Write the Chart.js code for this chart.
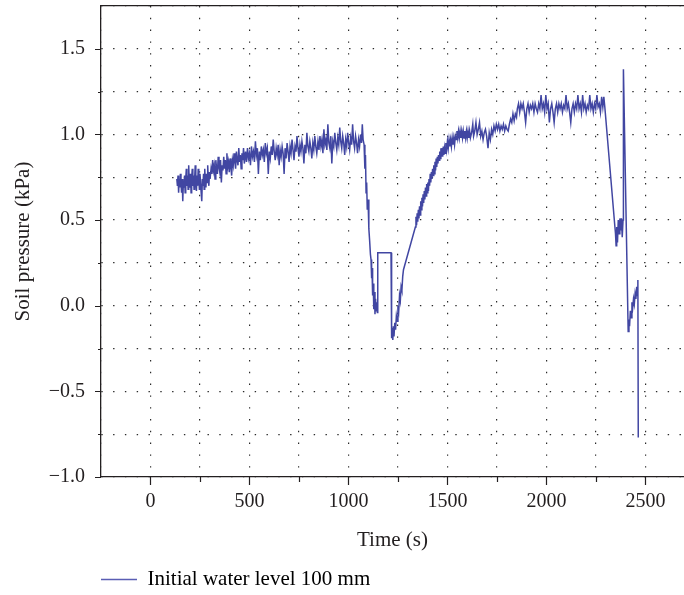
<!DOCTYPE html>
<html lang="en">
<head>
  <meta charset="UTF-8" />
  <title>Soil pressure</title>
  <script src="https://cdn.jsdelivr.net/npm/chart.js"></script>
  <style>
    body {
      margin: 0;
      background: #fff;
    }
    canvas {
      display: block;
    }
  </style>
</head>
<body>
  <canvas id="pressureChart" width="684" height="595"></canvas>

  <script>
    // Readings (time s, pressure kPa)
    const earlyPhase = [
      [133,0.74],[136,0.70],[139,0.76],[142,0.66],[145,0.74],[148,0.69],[151,0.77],[154,0.72],[157,0.66],[160,0.74],
      [163,0.61],[166,0.72],[169,0.69],[172,0.76],[175,0.66],[178,0.74],[181,0.80],[184,0.70],[187,0.76],[190,0.68],
      [193,0.82],[196,0.72],[199,0.69],[202,0.77],[205,0.66],[208,0.74],[211,0.80],[214,0.70],[217,0.76],[220,0.68],
      [223,0.74],[226,0.82],[229,0.72],[232,0.67],[235,0.76],[238,0.70],[241,0.80],[244,0.74],[247,0.68],[250,0.77],
      [253,0.72],[256,0.66],[259,0.61],[262,0.74],[265,0.70],[268,0.77],[271,0.68],[274,0.80],[277,0.73],[280,0.69],
      [283,0.77],[286,0.72],[289,0.82],[292,0.74],[295,0.70],[298,0.78],[301,0.74],
      [306,0.80],[310,0.77],[314,0.85],[318,0.79],[322,0.82],[326,0.74],[330,0.85],[334,0.80],[338,0.77],[342,0.87],
      [346,0.81],[350,0.78],[354,0.85],[358,0.72],[362,0.82],[366,0.79],[370,0.87],[374,0.80],[378,0.85],[382,0.77],
      [386,0.89],[390,0.81],[394,0.84],[398,0.78],[402,0.86],[406,0.81],[410,0.76],[414,0.85],
      [418,0.82],[422,0.89],[426,0.84],[430,0.80],[434,0.90],[438,0.85],[442,0.82],[446,0.92],[450,0.84],[454,0.88],
      [458,0.80],[462,0.89],[466,0.85],[470,0.92],[474,0.83]
    ];

    const midPhase = [
      [480,0.90],[485,0.84],[490,0.92],[495,0.86],[500,0.89],[505,0.82],[510,0.93],[515,0.87],[520,0.90],[525,0.84],
      [530,0.96],[535,0.88],[540,0.92],[545,0.77],[550,0.90],[555,0.85],[560,0.93],[565,0.88],[570,0.91],[575,0.84],
      [580,0.95],[585,0.89],[590,0.92],[595,0.77],[600,0.90],[605,0.86],[610,0.93],[615,0.88],[620,0.97],[625,0.90],
      [630,0.85],[635,0.92],[640,0.88],[645,0.94],[650,0.82],[655,0.91],[660,0.87],[665,0.93],[670,0.89],[675,0.77],
      [680,0.92],[685,0.86],[690,0.95],[695,0.90],[700,0.84],[705,0.93],[710,0.89],[715,0.97],[720,0.91],[725,0.85],
      [730,0.93],[735,0.90],[740,0.99],[745,0.92],[750,0.87],[755,0.94],[760,0.90],[765,0.96],[770,0.92],[775,0.83],
      [780,0.94],[785,0.89],[790,1.01],[795,0.93],[800,0.90],[805,0.96],[810,0.92],[815,0.86],[820,0.95],[825,0.91],
      [830,0.99],[835,0.93],[840,0.89],
      [846,0.96],[851,0.91],[856,0.99],[861,0.93],[866,0.97],[871,0.89],[876,1.03],[881,0.94],[886,0.97],[891,0.91],
      [896,1.06],[901,0.95],[906,0.92],[911,0.99],[916,0.83],[921,0.96],[926,0.93],[931,1.01],[936,0.95],[941,0.91],
      [946,0.98],[951,0.94],[956,1.04],[961,0.96],[966,0.92],[971,0.99],[976,0.95],[981,0.88],[986,0.97],[991,0.93],
      [996,1.01],[1001,0.95],[1006,0.91],[1011,0.98],[1016,0.94],[1021,1.06],[1026,0.96],[1031,0.92],[1036,0.99],
      [1041,0.95],[1046,0.89],[1051,0.97],[1056,0.93],[1061,1.00],[1066,0.95],[1070,1.06],[1074,0.97]
    ];

    const firstDrop = [
      [1079,0.94],[1083,0.80],[1086,0.88],[1089,0.66],[1092,0.72],[1095,0.56],[1099,0.62],[1103,0.45],[1107,0.38],
      [1111,0.30],[1114,0.27],[1117,0.16],[1119,0.22],[1122,0.06],[1125,0.13],[1128,-0.02],[1131,0.08],[1134,-0.05],
      [1137,0.04],[1140,-0.03],[1143,0.02],[1146,-0.04],[1148,0.31],[1215,0.31],[1218,-0.19],[1221,-0.13],[1224,-0.20],
      [1227,-0.12],[1230,-0.18],[1234,-0.10],[1238,-0.14],[1242,-0.06],[1246,-0.09],[1250,0.00],[1254,-0.03],
      [1258,0.06],[1262,0.03],[1266,0.11],[1270,0.09],[1274,0.17],[1278,0.21],[1338,0.46]
    ];

    const recovery = [
      [1341,0.52],[1344,0.47],[1347,0.54],[1350,0.49],[1353,0.56],[1356,0.51],[1359,0.58],[1362,0.53],[1365,0.61],
      [1368,0.56],[1371,0.63],[1374,0.58],[1377,0.65],[1380,0.60],[1383,0.67],[1386,0.62],[1389,0.69],[1392,0.64],
      [1395,0.71],[1398,0.66],[1401,0.72],[1404,0.67],[1407,0.74],[1410,0.70],[1413,0.77],[1416,0.72],[1419,0.78],
      [1422,0.74],[1425,0.80],[1428,0.76],[1431,0.82],[1434,0.77],[1437,0.84],[1440,0.79],[1443,0.86],[1446,0.81],
      [1449,0.87],[1452,0.83],[1455,0.88],[1458,0.85],[1461,0.90],[1464,0.86],[1467,0.92],[1470,0.87],[1473,0.92],
      [1476,0.87],[1479,0.93],[1482,0.88],[1485,0.92],[1488,0.89],[1492,0.95],[1496,0.91],[1500,0.96],[1504,0.92],
      [1508,0.97],[1512,0.93],[1516,0.97],[1520,0.93],[1524,0.98],[1528,0.94],[1532,0.98],[1536,0.94],[1540,0.99],
      [1544,0.97],[1548,1.02],[1552,0.98],[1556,1.02],[1560,0.98],[1564,1.02],[1568,0.98],[1572,1.02],[1576,0.98],
      [1580,1.02],[1584,0.98],[1588,1.02],[1592,0.98],[1596,1.02],[1600,0.98],[1604,1.02],[1608,0.98],[1612,1.02],
      [1616,0.98],[1622,1.01],
      [1628,1.06],[1632,0.99],[1638,1.02],[1644,1.07],[1650,1.00],[1656,1.03],[1662,1.07],[1668,0.99],[1674,1.02],
      [1680,0.97],[1686,1.01],[1692,1.03],[1698,0.99],[1705,0.92],[1711,1.01],[1717,0.97],[1723,1.03],[1729,1.00],
      [1735,1.05],[1741,1.02],[1747,1.06],[1753,1.03],[1759,1.06],[1765,1.02],[1771,1.05],[1777,1.03],[1783,1.06],
      [1789,1.02],[1795,1.05],[1801,1.03],[1807,1.02],[1813,1.06],[1819,1.09],[1825,1.07],[1831,1.12],[1837,1.08],
      [1843,1.12],[1849,1.10]
    ];

    const plateau = [
      [1853,1.15],[1859,1.18],[1865,1.13],[1871,1.18],[1877,1.15],[1883,1.18],[1889,1.13],[1895,1.07],[1901,1.15],
      [1907,1.18],[1913,1.13],[1919,1.17],[1925,1.15],[1931,1.18],[1937,1.13],[1943,1.18],[1949,1.15],[1955,1.13],
      [1961,1.18],[1967,1.15],[1973,1.23],[1979,1.15],[1985,1.18],[1991,1.13],[1997,1.23],[2003,1.15],[2009,1.18],
      [2015,1.07],[2021,1.15],[2027,1.18],[2033,1.13],[2039,1.07],[2045,1.15],[2051,1.18],[2057,1.13],[2063,1.18],
      [2069,1.15],[2075,1.18],[2081,1.13],[2087,1.17],[2093,1.15],[2099,1.23],[2105,1.15],[2111,1.18],[2117,1.13],
      [2123,1.07],[2129,1.15],[2135,1.18],[2141,1.13],[2147,1.18],[2153,1.15],[2159,1.23],[2165,1.15],[2171,1.18],
      [2177,1.13],[2183,1.23],[2189,1.15],[2195,1.18],[2201,1.13],[2207,1.17],[2213,1.15],[2219,1.23],[2225,1.15],
      [2231,1.18],[2237,1.13],[2243,1.18],[2249,1.15],[2255,1.23],[2261,1.16],[2267,1.18],[2273,1.13],[2279,1.22],
      [2285,1.16],[2290,1.22],[2295,1.16]
    ];

    const finalDrop = [
      [2346,0.46],[2349,0.42],[2352,0.35],[2355,0.46],[2359,0.37],[2363,0.50],[2367,0.42],[2371,0.51],[2375,0.44],
      [2379,0.51],[2383,0.40],[2387,0.50],[2389,1.38],[2413,-0.15],[2417,-0.08],[2420,-0.12],[2424,-0.03],[2428,-0.07],
      [2432,0.02],[2436,-0.01],[2440,0.04],[2444,0.01],[2448,0.07],[2452,0.04],[2456,0.11],[2459,0.06],[2462,0.15],
      [2464,-0.77]
    ];

    const seriesName = 'Initial water level 100 mm';

    // Axis ticks
    const xTickValues = [-250, 0, 250, 500, 750, 1000, 1250, 1500, 1750, 2000, 2250, 2500];
    const xTickLabels = ['', '0', '', '500', '', '1000', '', '1500', '', '2000', '', '2500'];
    const yTickValues = [-1, -0.75, -0.5, -0.25, 0, 0.25, 0.5, 0.75, 1, 1.25, 1.5, 1.75];
    const yTickLabels = ['\u22121.0', '', '\u22120.5', '', '0.0', '', '0.5', '', '1.0', '', '1.5', ''];

    const lineColor = '#4146a2';
    const axisColor = '#231f20';
    const gridColor = '#2a2a2a';
    const serif = "'Liberation Serif', 'DejaVu Serif', serif";

    const points = [...earlyPhase, ...midPhase, ...firstDrop, ...recovery, ...plateau, ...finalDrop]
      .map(p => ({ x: p[0], y: p[1] }));

    // short outward tick marks, longer on labelled values
    const tickMarks = {
      id: 'tickMarks',
      afterDraw(chart) {
        const { ctx } = chart;
        const x = chart.scales.x;
        const y = chart.scales.y;
        ctx.save();
        ctx.strokeStyle = axisColor;
        ctx.lineWidth = 1.2;
        ctx.beginPath();
        x.ticks.forEach((t, i) => {
          if (t.value === x.min) return;
          const px = Math.round(x.getPixelForValue(t.value)) + 0.5;
          const len = xTickLabels[i] ? 8 : 5;
          ctx.moveTo(px, x.top);
          ctx.lineTo(px, x.top + len);
        });
        y.ticks.forEach((t, i) => {
          if (t.value === y.max) return;
          const py = Math.round(y.getPixelForValue(t.value)) + 0.5;
          const len = yTickLabels[i] ? 6 : 3;
          ctx.moveTo(y.right, py);
          ctx.lineTo(y.right - len, py);
        });
        ctx.stroke();
        ctx.restore();
      }
    };

    // legend sits under the plot, lined up with the y axis
    const legendOffset = {
      id: 'legendOffset',
      beforeDraw(chart) {
        chart.legend.left = chart.chartArea.left - 16;
      }
    };

    const ctx = document.getElementById('pressureChart').getContext('2d');

    new Chart(ctx, {
      type: 'line',
      data: {
        datasets: [{
          label: seriesName,
          data: points,
          borderColor: lineColor,
          backgroundColor: lineColor,
          borderWidth: 1.5,
          pointRadius: 0,
          tension: 0,
          fill: false
        }]
      },
      options: {
        responsive: false,
        devicePixelRatio: 1,
        animation: false,
        layout: { padding: { top: 6, right: 0, bottom: 0, left: 0 } },
        plugins: {
          tooltip: { enabled: false },
          legend: {
            position: 'bottom',
            align: 'start',
            maxHeight: 42,
            labels: {
              boxWidth: 36,
              boxHeight: 1.5,
              padding: 16,
              color: axisColor,
              font: { family: serif, size: 21 },
              generateLabels: () => [{
                text: seriesName,
                fillStyle: '#5a5eb4',
                strokeStyle: '#5a5eb4',
                lineWidth: 0,
                hidden: false,
                datasetIndex: 0
              }]
            }
          }
        },
        scales: {
          x: {
            type: 'linear',
            position: 'bottom',
            min: -250,
            max: 2695,
            afterBuildTicks: scale => {
              scale.ticks = xTickValues.map(v => ({ value: v }));
            },
            afterFit: scale => {
              scale.height = 76;
              scale.paddingLeft = 0;
              scale.paddingRight = 0;
            },
            ticks: {
              autoSkip: false,
              maxRotation: 0,
              padding: 13,
              color: axisColor,
              font: { family: serif, size: 20 },
              callback: (value, index) => xTickLabels[index]
            },
            grid: {
              color: gridColor,
              lineWidth: 1.2,
              drawTicks: false
            },
            border: {
              display: true,
              color: axisColor,
              width: 1.3,
              dash: [1.4, 10.4]
            },
            title: {
              display: true,
              text: 'Time (s)',
              color: axisColor,
              font: { family: serif, size: 21 },
              padding: { top: 0, bottom: 0 }
            }
          },
          x2: {
            type: 'linear',
            position: 'top',
            min: -250,
            max: 2695,
            afterFit: scale => {
              scale.height = 0;
              scale.paddingLeft = 0;
              scale.paddingRight = 0;
            },
            ticks: { display: false },
            grid: { display: false, drawTicks: false },
            border: { display: true, color: axisColor, width: 1.3 }
          },
          y: {
            type: 'linear',
            min: -1,
            max: 1.75,
            afterBuildTicks: scale => {
              scale.ticks = yTickValues.map(v => ({ value: v }));
            },
            afterFit: scale => {
              scale.width = 101;
              scale.paddingTop = 0;
              scale.paddingBottom = 0;
            },
            ticks: {
              autoSkip: false,
              padding: 16,
              color: axisColor,
              font: { family: serif, size: 20 },
              callback: (value, index) => yTickLabels[index]
            },
            grid: {
              color: gridColor,
              lineWidth: 1.2,
              drawTicks: false
            },
            border: {
              display: true,
              color: axisColor,
              width: 1.3,
              dash: [1.4, 10.4]
            },
            title: {
              display: true,
              text: 'Soil pressure (kPa)',
              color: axisColor,
              font: { family: serif, size: 21 },
              padding: { top: 11, bottom: 0 }
            }
          }
        }
      },
      plugins: [tickMarks, legendOffset]
    });
  </script>
</body>
</html>
